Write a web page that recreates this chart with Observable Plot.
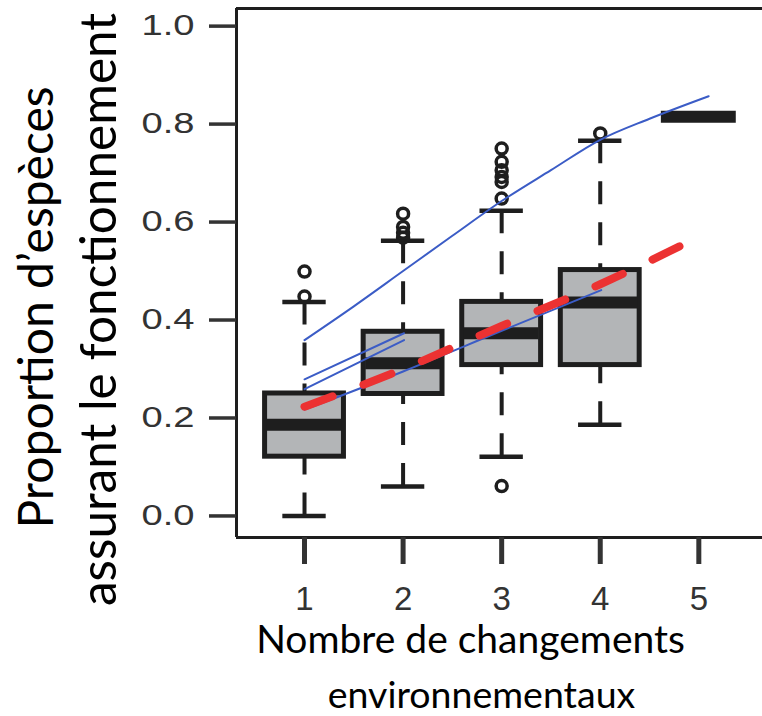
<!DOCTYPE html>
<html><head><meta charset="utf-8">
<script src="https://cdn.jsdelivr.net/npm/d3@7"></script>
<script src="https://cdn.jsdelivr.net/npm/@observablehq/plot@0.6"></script>
<style>body{margin:0;background:#fff;} #chart svg{display:block;}</style>
</head><body><div id="chart"></div>
<script>
// ---- data ----
const changes = [1, 2, 3, 4, 5];
const lowerWhisker = [0.000, 0.060, 0.121, 0.186, 0.815];
const q1 = [0.121, 0.249, 0.308, 0.308, 0.815];
const median = [0.186, 0.312, 0.373, 0.436, 0.815];
const q3 = [0.250, 0.376, 0.437, 0.502, 0.815];
const upperWhisker = [0.437, 0.562, 0.623, 0.766, 0.815];

const outlierX = [1, 1, 2, 2, 2, 2, 3, 3, 3, 3, 3, 3, 3, 4];
const outlierY = [0.499, 0.448, 0.617, 0.590, 0.578, 0.568, 0.750, 0.723, 0.706, 0.692, 0.682, 0.648, 0.061, 0.781];

const blueUpperX = [1, 1.5, 2, 2.5, 3, 3.5, 4, 4.5, 5.1];
const blueUpperY = [0.359, 0.428, 0.500, 0.572, 0.643, 0.706, 0.768, 0.811, 0.857];
const blueShortAX = [1, 2.01];
const blueShortAY = [0.279, 0.373];
const blueShortBX = [1, 2.01];
const blueShortBY = [0.259, 0.359];
const blueLowerX = [1, 2, 3, 4.01];
const blueLowerY = [0.217, 0.295, 0.378, 0.461];

const redX = [1, 2, 3, 4, 4.88];
const redY = [0.223, 0.300, 0.388, 0.473, 0.558];

const xTicks = [1, 2, 3, 4, 5];
const yTicks = [0, 0.2, 0.4, 0.6, 0.8, 1.0];
const yTitle1 = "Proportion d’espèces";
const yTitle2 = "assurant le fonctionnement";
const xTitle1 = "Nombre de changements";
const xTitle2 = "environnementaux";

// ---- tables built from the arrays ----
const boxes = changes.map((x, i) => ({x, lo: lowerWhisker[i], q1: q1[i], med: median[i], q3: q3[i], hi: upperWhisker[i]}));
const outliers = outlierX.map((x, i) => ({x, y: outlierY[i]}));
const toPts = (X, Y) => X.map((x, i) => ({x, y: Y[i]}));
const blueLines = [
  toPts(blueUpperX, blueUpperY),
  toPts(blueShortAX, blueShortAY),
  toPts(blueShortBX, blueShortBY),
  toPts(blueLowerX, blueLowerY)
];
const red = toPts(redX, redY);

const xDomain = [0.31, 5.646];
const yDomain = [-0.044, 1.036];
const boxHalf = 0.40, medHalf = 0.38, capHalf = 0.22;
const ink = "#1e1e1e";
const blue = "#3b5cc6";
const titleFont = "Lato, 'Open Sans', sans-serif";

const plot = Plot.plot({
  width: 762, height: 716,
  marginLeft: 236, marginRight: 0, marginTop: 8, marginBottom: 179,
  x: {domain: xDomain},
  y: {domain: yDomain},
  style: {fontFamily: "'Liberation Sans', Arial, sans-serif", background: "#fff"},
  marks: [
    // frame (left, top, bottom)
    Plot.ruleX([xDomain[0]], {stroke: ink, strokeWidth: 3}),
    Plot.ruleY(yDomain, {stroke: ink, strokeWidth: 3}),
    // whiskers (drawn from the whisker end toward the box)
    Plot.ruleX(boxes, {x: "x", y1: "hi", y2: "q3", stroke: ink, strokeWidth: 4, strokeDasharray: "23,18"}),
    Plot.ruleX(boxes, {x: "x", y1: "lo", y2: "q1", stroke: ink, strokeWidth: 4, strokeDasharray: "23,18"}),
    // staples
    Plot.ruleY(boxes, {y: "hi", x1: d => d.x - capHalf, x2: d => d.x + capHalf, stroke: ink, strokeWidth: 4.5}),
    Plot.ruleY(boxes, {y: "lo", x1: d => d.x - capHalf, x2: d => d.x + capHalf, stroke: ink, strokeWidth: 4.5}),
    // boxes
    Plot.rect(boxes.filter(d => d.q3 > d.q1), {x1: d => d.x - boxHalf, x2: d => d.x + boxHalf, y1: "q1", y2: "q3", fill: "#b3b5b7", stroke: ink, strokeWidth: 5}),
    // medians
    Plot.ruleY(boxes, {y: "med", x1: d => d.x - medHalf, x2: d => d.x + medHalf, stroke: ink, strokeWidth: 12}),
    // outliers
    Plot.dot(outliers, {x: "x", y: "y", r: 5.5, stroke: ink, strokeWidth: 3.5, fill: "none"}),
    // blue lines
    ...blueLines.map(pts => Plot.line(pts, {x: "x", y: "y", stroke: blue, strokeWidth: 2, curve: "monotone-x"})),
    // red dashed line
    Plot.line(red, {x: "x", y: "y", stroke: "#ec3232", strokeWidth: 8, strokeDasharray: "30,33", strokeLinecap: "round", curve: "monotone-x"}),
    // axes
    Plot.axisY(yTicks, {tickSize: 27, tickPadding: 15, tickFormat: d3.format(".1f"), fontSize: 29, strokeWidth: 3.5, color: "#333", label: null}),
    Plot.axisX(xTicks, {tickSize: 27, tickPadding: 22, tickFormat: d => String(d), fontSize: 33, strokeWidth: 5, color: "#333", label: null}),
    // axis titles
    Plot.text([yTitle1], {text: d => d, frameAnchor: "left", textAnchor: "middle", rotate: -90, dx: -184, dy: 34.5, lineAnchor: "bottom", fontSize: 48, fontFamily: titleFont, fill: "#000"}),
    Plot.text([yTitle2], {text: d => d, frameAnchor: "left", textAnchor: "middle", rotate: -90, dx: -121, dy: 36.5, lineAnchor: "bottom", fontSize: 49.5, fontFamily: titleFont, fill: "#000"}),
    Plot.text([xTitle1], {text: d => d, frameAnchor: "bottom", textAnchor: "middle", dx: -29, dy: 115, lineAnchor: "bottom", fontSize: 39, fontFamily: titleFont, fill: "#000"}),
    Plot.text([xTitle2], {text: d => d, frameAnchor: "bottom", textAnchor: "middle", dx: -18, dy: 170, lineAnchor: "bottom", fontSize: 37.5, fontFamily: titleFont, fill: "#000"})
  ]
});
// widen the y tick labels as in the reference
d3.select(plot).selectAll('g[aria-label="y-axis tick label"] text')
  .attr("textLength", 53).attr("lengthAdjust", "spacingAndGlyphs");
document.getElementById("chart").appendChild(plot);
</script>
</body></html>
